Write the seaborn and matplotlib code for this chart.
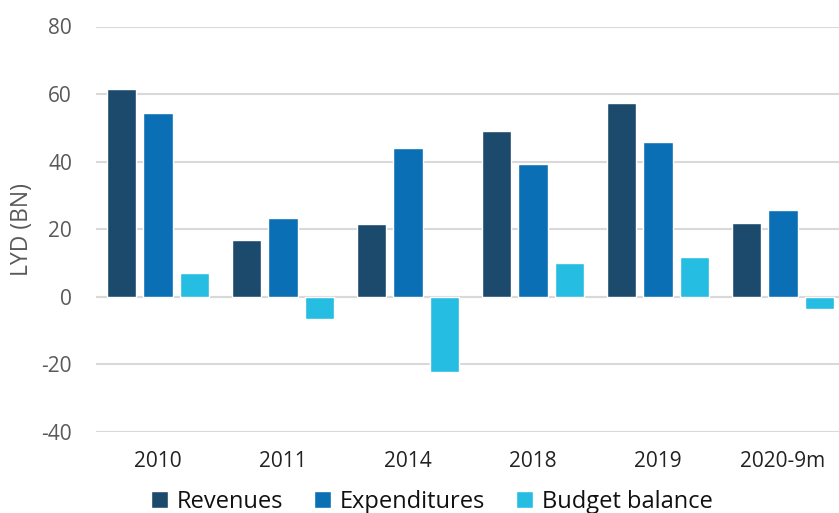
import matplotlib
matplotlib.use("Agg")
import matplotlib.pyplot as plt
import seaborn as sns
import pandas as pd

categories = ["2010", "2011", "2014", "2018", "2019", "2020-9m"]
revenues = [61.4, 16.9, 21.5, 49.2, 57.4, 21.9]
expenditures = [54.4, 23.4, 43.9, 39.3, 45.9, 25.6]
budget_balance = [7.0, -6.5, -22.2, 10.1, 11.8, -3.6]
series_names = ["Revenues", "Expenditures", "Budget balance"]
colors = ["#1C4A6C", "#0A6FB5", "#26BDE2"]
yticks = [-40, -20, 0, 20, 40, 60, 80]

rows = []
for name, vals in zip(series_names, [revenues, expenditures, budget_balance]):
    for c, v in zip(categories, vals):
        rows.append({"Year": c, "Series": name, "Value": v})
df = pd.DataFrame(rows)

sns.set_theme(style="white")
plt.rcParams["font.family"] = ["Open Sans", "DejaVu Sans"]

fig = plt.figure(figsize=(8.39, 5.13), dpi=100)
ax = fig.add_axes([95.5 / 839, 1 - 432 / 513, 750 / 839, (432 - 26.5) / 513])

sns.barplot(data=df, x="Year", y="Value", hue="Series", order=categories,
            hue_order=series_names, palette=colors, width=0.88, gap=0.2,
            saturation=1, ax=ax, legend=True)

ax.set_ylim(-40, 80)
ax.set_yticks(yticks)
ax.set_yticklabels([str(t) for t in yticks])
ax.set_xlim(-0.5, len(categories) - 0.5)
ax.yaxis.grid(True, color="#D9D9D9", linewidth=1.5)
ax.set_axisbelow(True)
ax.axhline(0, color="#D9D9D9", linewidth=1.5, zorder=0.5)
for s in ax.spines.values():
    s.set_visible(False)
ax.tick_params(axis="y", labelsize=15, labelcolor="#595959", length=0, pad=17)
ax.tick_params(axis="x", labelsize=15, labelcolor="#222222", length=0, pad=14)
ax.set_xlabel("")
ax.set_ylabel("LYD (BN)", fontsize=16.5, color="#595959")
ax.yaxis.set_label_coords(34 / 839, 1 - 230 / 513, transform=fig.transFigure)

leg = ax.legend(loc="center", bbox_to_anchor=(432 / 839, 1 - 502 / 513),
                bbox_transform=fig.transFigure, ncol=3, frameon=False,
                fontsize=17, handlelength=0.7, handleheight=0.7,
                handletextpad=0.4, columnspacing=1.3, labelcolor="#111111")

fig.savefig("out.png", dpi=100)
